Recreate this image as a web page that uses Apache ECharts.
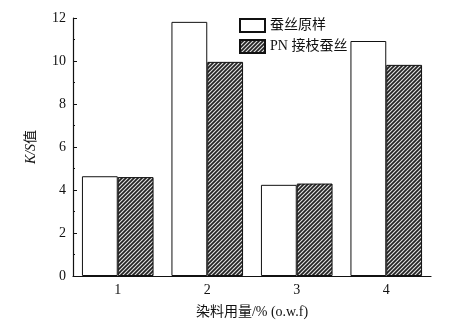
<!DOCTYPE html>
<html>
<head>
<meta charset="utf-8">
<script src="https://cdn.jsdelivr.net/npm/echarts@6/dist/echarts.min.js"></script>
<style>
  html, body { margin: 0; padding: 0; background: #fff; }
  #main { width: 452px; height: 324px; }
</style>
</head>
<body>
<div id="main"></div>
<script>
// 数据
var categories = ["1", "2", "3", "4"];
var rawSilk = [4.64, 11.82, 4.24, 10.93];      // 蚕丝原样
var graftedSilk = [4.60, 9.96, 4.30, 9.82];    // PN接枝蚕丝
var yTicks = [0, 2, 4, 6, 8, 10, 12];

// 斜线填充
function hatch() {
  var c = document.createElement("canvas");
  c.width = 4; c.height = 4;
  var g = c.getContext("2d");
  g.fillStyle = "#e0e0e0";
  g.fillRect(0, 0, 4, 4);
  g.strokeStyle = "#222";
  g.lineWidth = 1.7;
  g.beginPath();
  g.moveTo(-1, 5); g.lineTo(5, -1);
  g.moveTo(-1, 1); g.lineTo(1, -1);
  g.moveTo(3, 5); g.lineTo(5, 3);
  g.stroke();
  return c;
}

var serif = "'Liberation Serif', 'Noto Sans CJK SC', serif";
var chart = echarts.init(document.getElementById("main"));
chart.setOption({
  animation: false,
  textStyle: { fontFamily: serif, color: "#111" },
  grid: { left: 73, right: 21, top: 18, bottom: 45 },
  legend: {
    orient: "vertical",
    left: 234,
    top: 13,
    itemWidth: 25,
    itemHeight: 13,
    itemGap: 6,
    icon: "rect",
    textStyle: { fontFamily: serif, fontSize: 14, color: "#111" },
    data: ["蚕丝原样", "PN 接枝蚕丝"]
  },
  xAxis: {
    type: "category",
    data: categories,
    name: "染料用量/% (o.w.f)",
    nameLocation: "middle",
    nameGap: 29,
    nameTextStyle: { fontFamily: serif, fontSize: 14, color: "#111" },
    axisLine: { lineStyle: { color: "#111", width: 1.2 } },
    axisTick: { inside: true, length: 4, lineStyle: { color: "#111" } },
    axisLabel: { fontSize: 14, color: "#111", margin: 7 }
  },
  yAxis: {
    type: "value",
    min: yTicks[0],
    max: yTicks[yTicks.length - 1],
    interval: 2,
    name: "{i|K/S}{n|值}",
    nameLocation: "middle",
    nameGap: 35,
    nameRotate: 90,
    nameTextStyle: {
      rich: {
        i: { fontFamily: serif, fontStyle: "italic", fontSize: 14, color: "#111" },
        n: { fontFamily: serif, fontSize: 14, color: "#111" }
      }
    },
    splitLine: { show: false },
    axisLine: { show: true, lineStyle: { color: "#111", width: 1.2 } },
    axisTick: { show: true, inside: true, length: 4, lineStyle: { color: "#111" } },
    minorTick: { show: true, splitNumber: 2, length: 2, lineStyle: { color: "#111" } },
    axisLabel: { fontSize: 14, color: "#111", margin: 7 }
  },
  series: [
    {
      name: "蚕丝原样",
      type: "bar",
      data: rawSilk,
      barGap: "0%",
      barCategoryGap: "20%",
      itemStyle: { color: "#fff", borderColor: "#111", borderWidth: 1 }
    },
    {
      name: "PN 接枝蚕丝",
      type: "bar",
      data: graftedSilk,
      barGap: "0%",
      barCategoryGap: "20%",
      itemStyle: {
        color: { image: hatch(), repeat: "repeat" },
        borderColor: "#111",
        borderWidth: 1
      }
    }
  ]
});
</script>
</body>
</html>
